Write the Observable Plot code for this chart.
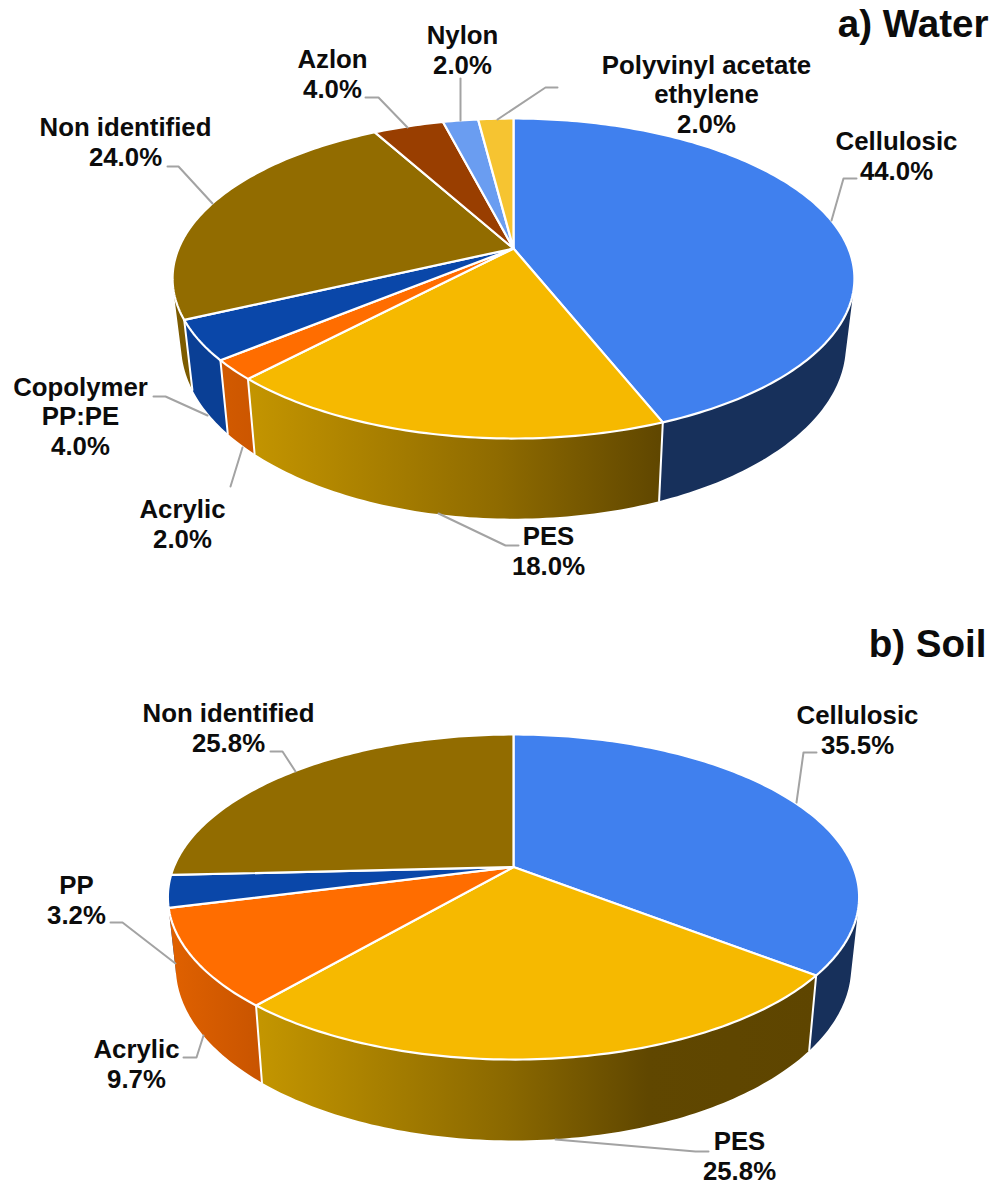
<!DOCTYPE html>
<html>
<head>
<meta charset="utf-8">
<title>Fibre composition in water and soil</title>
<script src="https://cdn.jsdelivr.net/npm/d3@7"></script>
<script src="https://cdn.jsdelivr.net/npm/@observablehq/plot@0.6"></script>
<style>
  html, body { margin: 0; padding: 0; background: #fff; }
  svg { display: block; }
</style>
</head>
<body>
<div id="chart"></div>
<script>
// Shares per fibre type, clockwise from twelve o'clock.
const waterNames = ["Cellulosic", "PES", "Acrylic", "Copolymer\nPP:PE", "Non identified", "Azlon", "Nylon", "Polyvinyl acetate\nethylene"];
const waterValues = [44.0, 18.0, 2.0, 4.0, 24.0, 4.0, 2.0, 2.0];
const soilNames = ["Cellulosic", "PES", "Acrylic", "PP", "Non identified"];
const soilValues = [35.5, 25.8, 9.7, 3.2, 25.8];

// Top-face colour per fibre type.
const fibreNames = ["Cellulosic", "PES", "Acrylic", "Copolymer\nPP:PE", "PP", "Non identified", "Azlon", "Nylon", "Polyvinyl acetate\nethylene"];
const fibreColors = ["#4080EE", "#F6B900", "#FF6D00", "#0A47A9", "#0A47A9", "#926C00", "#993E00", "#6A9DF1", "#F6C431"];

// Side-wall shading, as gradient stops running left to right.
const waterWalls = {
  "Cellulosic": [[0, "#17305B"], [1, "#17305B"]],
  "PES": [[0, "#C49500"], [0.6, "#8F6B00"], [1, "#5F4600"]],
  "Acrylic": [[0, "#D25A00"], [1, "#CC5600"]],
  "Copolymer\nPP:PE": [[0, "#0A3F95"], [1, "#0A3F95"]],
  "Non identified": [[0, "#7C5B00"], [1, "#7C5B00"]],
  "Azlon": [[0, "#7C3200"], [1, "#7C3200"]],
  "Nylon": [[0, "#5480C8"], [1, "#5480C8"]],
  "Polyvinyl acetate\nethylene": [[0, "#C99F28"], [1, "#C99F28"]]
};
const soilWalls = {
  "Cellulosic": [[0, "#17305B"], [1, "#17305B"]],
  "PES": [[0, "#C49600"], [0.45, "#8A6800"], [0.7, "#604700"], [1, "#5E4500"]],
  "Acrylic": [[0, "#E06100"], [1, "#C85400"]],
  "PP": [[0, "#0A3F95"], [1, "#0A3F95"]],
  "Non identified": [[0, "#7C5B00"], [1, "#7C5B00"]]
};

// Perspective of each disc: apex position, axis lengths, foreshortening,
// then the scale and offset that carry the top rim down to the bottom rim.
const waterView = {id: "water", cx: 513, cy: 248, a: 334.9, b: 154.4, k: 0.1875, s: 0.975, drop: 312, open: 1.085};
const soilView = {id: "soil", cx: 513, cy: 866.5, a: 339.7, b: 157.0, k: 0.1846, s: 0.977, drop: 934.3, open: 1.068};

// Where each label's last line sits and the elbow of its leader.
const waterLabelPlaces = [[896, 179], [548, 574], [182, 547], [80, 454], [125, 165], [332, 97], [462, 73], [706, 132]];
const waterLeaders = [
  [[856, 178], [843, 178], [831, 220]],
  [[438, 513], [505, 545], [518, 545]],
  [[230, 486], [242, 447]],
  [[153, 396], [165, 396], [207, 415]],
  [[167, 166], [178, 166], [212, 203]],
  [[365, 97], [378, 97], [407, 127]],
  [[460, 78], [460, 120]],
  [[557, 87], [545, 87], [497, 119]]
];
const soilLabelPlaces = [[857, 753], [739, 1179], [136, 1087], [76, 923], [228, 751]];
const soilLeaders = [
  [[816, 752], [803, 752], [796, 802]],
  [[708, 1151], [695, 1151], [555, 1139]],
  [[183, 1057], [196, 1057], [203, 1035]],
  [[110, 922], [122, 922], [175, 963]],
  [[270, 751], [282, 751], [295, 771]]
];

const titles = [
  {text: "a) Water", x: 988, y: 36},
  {text: "b) Soil", x: 986, y: 656}
];

// Rim point at a clockwise angle (radians) on the top disc.
function topRim(view, angle) {
  const u = Math.sin(angle), v = Math.cos(angle), w = 1 + view.k * v;
  return {x: view.cx + view.a * u / w, y: view.cy - view.b * v / w};
}

// The same rim point carried down to the bottom disc.
function bottomRim(view, angle) {
  const p = topRim(view, angle);
  return {x: view.cx + view.s * (p.x - view.cx), y: view.drop + view.open * (p.y - view.cy)};
}

// Angle samples along an arc, fine enough to read as a curve.
function arcAngles(start, end) {
  const n = Math.max(2, Math.ceil((end - start) / (Math.PI / 180)));
  return d3.range(n + 1).map((i) => start + (end - start) * i / n);
}

// One wall quad, wound the same way round wherever the wall folds out of
// sight, so overlapping quads add up under the nonzero fill rule.
function wallQuad(view, t0, t1) {
  const corners = [topRim(view, t0), topRim(view, t1), bottomRim(view, t1), bottomRim(view, t0)];
  const area = d3.polygonArea(corners.map((p) => [p.x, p.y]));
  const wound = area < 0 ? corners.reverse() : corners;
  return [...wound, wound[0], {x: NaN, y: NaN}];
}

// Turns one panel's values into top-face, wall and divider polygons.
// A wall is one path of quads, separated by gaps, so the silhouette between
// both rims stays filled and no seams show between neighbouring quads.
function buildPanel(view, names, values) {
  const total = d3.sum(values);
  let running = 0;
  const faces = [], walls = [], dividers = [];
  names.forEach((name, i) => {
    const start = running / total * 2 * Math.PI;
    running += values[i];
    const end = running / total * 2 * Math.PI;
    const arc = arcAngles(start, end);
    const apex = {x: view.cx, y: view.cy};
    const ring = [apex, ...arc.map((t) => topRim(view, t)), apex];
    faces.push(...ring.map((p) => ({...p, name})));
    const quads = d3.pairs(arc).flatMap(([t0, t1]) => wallQuad(view, t0, t1));
    walls.push({name, quads, extent: d3.extent(quads, (p) => p.x)});
    // Only the wall's front-facing part shows a white edge between slices.
    if (Math.cos(start) < -0.35) {
      dividers.push(...[topRim(view, start), bottomRim(view, start)].map((p) => ({...p, key: name})));
    }
  });
  return {faces, walls: walls.reverse(), dividers};
}

const wallPaintId = (view, name) => `${view.id}-${fibreNames.indexOf(name)}`;

// Gradient definitions used by the walls, spanning each wall's full width.
function gradientDefs(view, walls, wallStops) {
  const defs = d3.create("svg:defs");
  walls.forEach(({name, extent}) => {
    const g = defs.append("linearGradient")
      .attr("id", wallPaintId(view, name))
      .attr("gradientUnits", "userSpaceOnUse")
      .attr("x1", extent[0]).attr("x2", extent[1]).attr("y1", 0).attr("y2", 0);
    wallStops[name].forEach(([offset, color]) => g.append("stop").attr("offset", offset).attr("stop-color", color));
  });
  return defs.node();
}

const labelFont = {fontFamily: "'Liberation Sans', Arial, sans-serif", fontWeight: 700, fill: "#0c0c0c"};

function panelMarks(view, names, values, wallStops, places, leaders) {
  const {faces, walls, dividers} = buildPanel(view, names, values);
  const labels = names.map((name, i) => ({
    text: `${name}\n${values[i].toFixed(1)}%`,
    x: places[i][0],
    y: places[i][1]
  }));
  const leaderPoints = leaders.flatMap((line, i) => line.map(([x, y]) => ({x, y, key: i})));
  return [
    () => gradientDefs(view, walls, wallStops),
    ...walls.map((wall) => Plot.line(wall.quads, {
      x: "x", y: "y",
      fill: `url(#${wallPaintId(view, wall.name)})`,
      stroke: "none"
    })),
    Plot.line(dividers, {x: "x", y: "y", z: "key", stroke: "white", strokeWidth: 2}),
    Plot.line(faces, {x: "x", y: "y", z: "name", fill: "name", stroke: "white", strokeWidth: 2.2, strokeLinejoin: "round"}),
    Plot.line(leaderPoints, {x: "x", y: "y", z: "key", stroke: "#a3a3a3", strokeWidth: 2}),
    Plot.text(labels, {x: "x", y: "y", text: "text", fontSize: 25.8, lineHeight: 1.14, lineAnchor: "bottom", textAnchor: "middle", ...labelFont})
  ];
}

const chart = Plot.plot({
  width: 993,
  height: 1183,
  margin: 0,
  x: {domain: [0, 993], axis: null},
  y: {domain: [1183, 0], axis: null},
  color: {domain: fibreNames, range: fibreColors},
  marks: [
    ...panelMarks(waterView, waterNames, waterValues, waterWalls, waterLabelPlaces, waterLeaders),
    ...panelMarks(soilView, soilNames, soilValues, soilWalls, soilLabelPlaces, soilLeaders),
    Plot.text(titles, {x: "x", y: "y", text: "text", fontSize: 38.6, lineAnchor: "bottom", textAnchor: "end", ...labelFont})
  ]
});

document.getElementById("chart").append(chart);
</script>
</body>
</html>
